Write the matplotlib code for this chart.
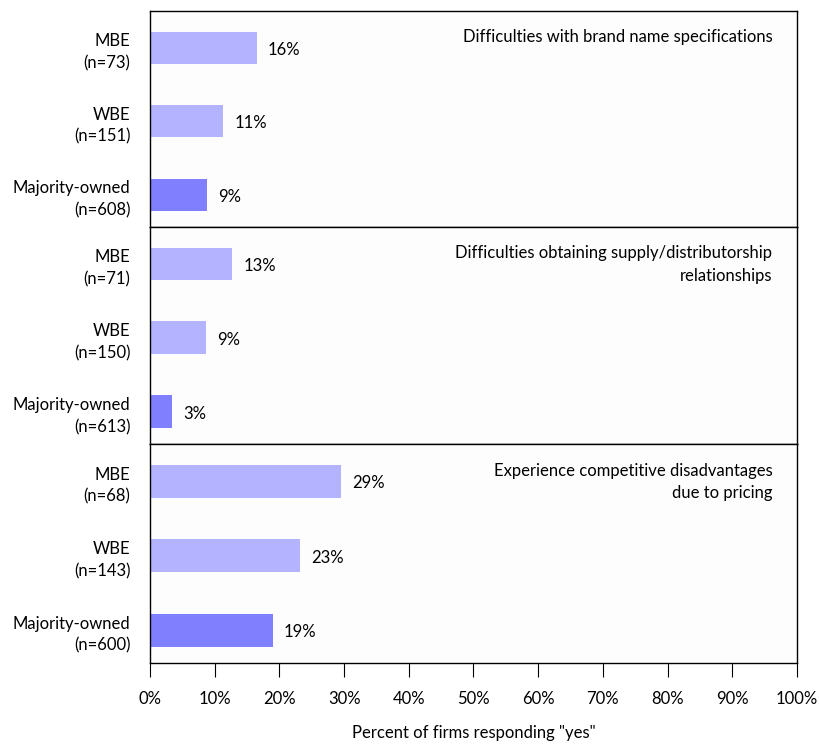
import numpy as np
import matplotlib.pyplot as plt

plt.rcParams['font.family'] = ['Lato', 'DejaVu Sans']

groups = ['MBE', 'WBE', 'Majority-owned']
titles = ['Difficulties with brand name specifications',
          'Difficulties obtaining supply/distributorship\nrelationships',
          'Experience competitive disadvantages\ndue to pricing']
counts = [[73, 151, 608], [71, 150, 613], [68, 143, 600]]
values = [[16.5, 11.3, 8.8], [12.7, 8.7, 3.4], [29.5, 23.2, 19.0]]
labels = [['16%', '11%', '9%'], ['13%', '9%', '3%'], ['29%', '23%', '19%']]
colors = ['#b3b3ff', '#b3b3ff', '#8080ff']

fig = plt.figure(figsize=(8.2, 7.45), dpi=100)
left, right = 150 / 820, 797 / 820
tops = [11, 227, 444]
bots = [227, 444, 663]
fs = 12

for i in range(3):
    y0 = 1 - bots[i] / 745
    h = (bots[i] - tops[i]) / 745
    ax = fig.add_axes([left, y0, right - left, h])
    ax.set_facecolor('#fdfdfd')
    pos = np.arange(3)
    ax.barh(pos, values[i], height=0.44, color=colors)
    ax.set_xlim(0, 100)
    ax.set_ylim(2.44, -0.5)
    ax.set_yticks(pos)
    ax.set_yticklabels([f'{g}\n(n={n})' for g, n in zip(groups, counts[i])],
                       fontsize=fs, ha='right', linespacing=1.45)
    ax.tick_params(axis='y', length=0, pad=14)
    for p, v, t in zip(pos, values[i], labels[i]):
        ax.text(v + 1.7, p + 0.03, t, va='center', fontsize=fs)
    ax.text(0.962, 0.915, titles[i], transform=ax.transAxes, ha='right',
            va='top', fontsize=fs, multialignment='right', linespacing=1.5)
    for s in ax.spines.values():
        s.set_linewidth(1.0)
    if i < 2:
        ax.set_xticks([])
    else:
        ax.set_xticks(np.arange(0, 101, 10))
        ax.set_xticklabels([f'{x}%' for x in range(0, 101, 10)], fontsize=fs)
        ax.tick_params(axis='x', length=10, pad=10)
        ax.set_xlabel('Percent of firms responding "yes"', fontsize=fs,
                      labelpad=13)

plt.savefig('out.png', dpi=100)
